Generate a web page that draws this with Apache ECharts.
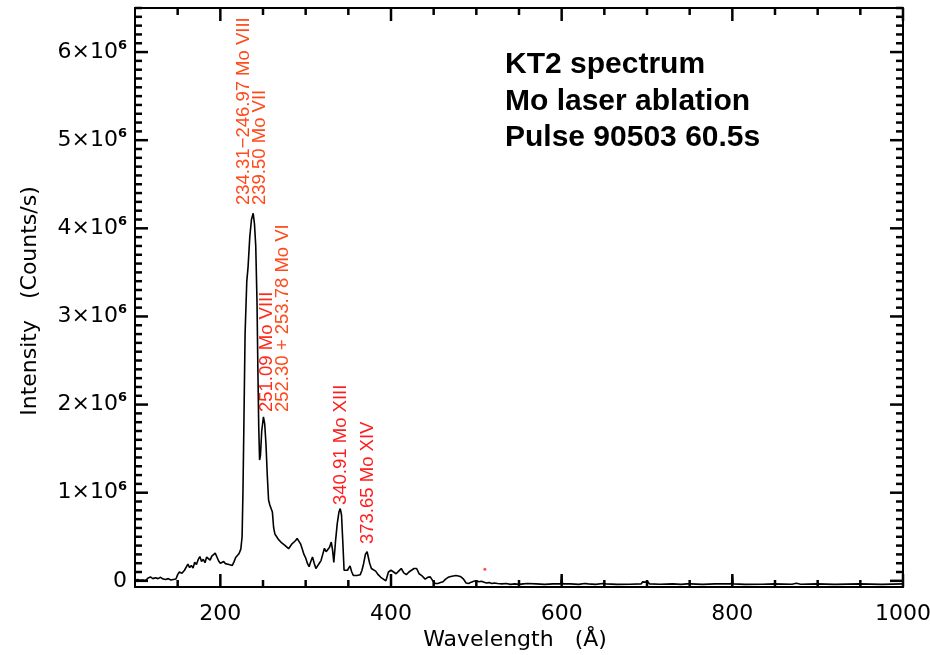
<!DOCTYPE html>
<html><head><meta charset="utf-8">
<script src="https://cdn.jsdelivr.net/npm/echarts@6/dist/echarts.min.js"></script>
<style>html,body{margin:0;padding:0;background:#fff;overflow:hidden}#c{width:930px;height:655px}</style>
</head><body><div id="c"></div>
<script>
// Wavelength (Å)
const wavelength = [
 100,103,106,109,112,115,118,121,124,127,130,133,136,139,142,145,148,150,152,155,158,160,162,164,166,168,170,172,174,176,178,180,182,184,186,188,190,192,194,196,198,200,202,204,206,208,210,212,214,216,218,220,222,224,225.5,226.5,227.5,229,231,232.5,234.5,236.5,238.5,240,241.5,243,244,245,246,247,248.5,250.5,252,253.5,255,256.5,258,259.5,261,262.5,264,266,268,270,272,274,276,278,280,282,284,286,288,290,292,294,296,298,300,302,304,306,308,310,312,314,316,318,320,322,324,326,328,330,331.5,333,335,337,339,340.5,342,343.5,345,347,349,352,354,356,360,364,366,368,370,372,373.5,375,377,379,382,385,388,391,394,397,400,403,406,409,412,415,418,421,424,427,430,433,436,440,443,446,449,452,455,458,461,464,467,470,473,476,479,482,485,488,491,494,497,500,503,506,509,512,515,518,521,525,530,535,540,545,550,555,560,570,580,590,599,600,601,610,620,627,629,631,640,648,650,652,665,680,693,695,698,701,703,715,730,740,747,749,751,765,780,799,800,801,815,835,849,850,851,870,875,880,899,900,901,920,935,949,950,951,975,1000
];
// Intensity (Counts/s)
const intensity = [
 5000,15000,5000,10000,0,30000,45000,25000,35000,25000,40000,20000,15000,25000,10000,15000,20000,70000,100000,85000,120000,105000,190000,150000,175000,145000,210000,185000,240000,275000,220000,245000,205000,270000,250000,235000,280000,300000,315000,270000,225000,200000,185000,220000,195000,210000,185000,200000,175000,215000,265000,285000,310000,360000,500000,1000000,1700000,2800000,3400000,3560000,3900000,4100000,4170000,4050000,3800000,3150000,2400000,1750000,1370000,1420000,1700000,1860000,1780000,1550000,1200000,920000,860000,880000,780000,600000,530000,500000,470000,455000,430000,445000,400000,380000,365000,380000,420000,400000,455000,480000,450000,420000,360000,300000,260000,200000,160000,220000,270000,200000,140000,170000,200000,230000,300000,370000,330000,350000,380000,440000,350000,210000,450000,650000,780000,820000,750000,450000,120000,110000,120000,170000,100000,60000,60000,70000,120000,200000,300000,330000,310000,200000,140000,150000,110000,70000,40000,20000,0,100000,120000,100000,80000,110000,140000,90000,70000,100000,120000,140000,140000,80000,60000,20000,40000,45000,0,-30000,-30000,-20000,-10000,20000,40000,50000,55000,60000,55000,45000,20000,-25000,-30000,-15000,-5000,0,-10000,-5000,-15000,-25000,-20000,-30000,-25000,-30000,-35000,-30000,-40000,-35000,-40000,-35000,-30000,-35000,-40000,-35000,-35000,55000,-35000,-35000,-40000,-30000,-10000,-35000,-40000,-30000,-12000,-35000,-40000,-38000,-35000,-12000,-15000,-12000,-35000,-38000,-35000,-40000,-35000,-15000,-35000,-40000,-35000,-35000,55000,-35000,-40000,-38000,-35000,-15000,-35000,-38000,-28000,-38000,-35000,-15000,-35000,-40000,-37000,-35000,-15000,-35000,-40000,-35000
];
// isolated red point
const redPointWavelength = [510];
const redPointIntensity = [130000];

const xMajorTicks = [200, 400, 600, 800, 1000];
const xMinorTicks = [150, 250, 300, 350, 450, 500, 550, 650, 700, 750, 850, 900, 950];
const yMajorTicks = [0, 1e6, 2e6, 3e6, 4e6, 5e6, 6e6];
const yMinorTicks = [];
for (let k = 1; k <= 65; k++) { if (k % 10 !== 0) yMinorTicks.push(k * 1e5); }

const annotations = [
  { text: '234.31\u2212246.97 Mo VIII', color: '#ff4a1c', x: 244, y: 205 },
  { text: '239.50 Mo VII',              color: '#ff4a1c', x: 260, y: 205 },
  { text: '251.09 Mo VIII',             color: '#ff2a1a', x: 267, y: 412 },
  { text: '252.30 + 253.78 Mo VI',      color: '#ff4a1c', x: 283, y: 412 },
  { text: '340.91 Mo XIII',             color: '#ff1e1e', x: 341, y: 505 },
  { text: '373.65 Mo XIV',              color: '#ff1e1e', x: 368, y: 544 }
];
const infoLines = ['KT2 spectrum', 'Mo laser ablation', 'Pulse 90503 60.5s'];

(function () {
const FONT = 'DejaVu Sans';
const X_MIN = 100, X_MAX = 1000, Y_MIN = -70000, Y_MAX = 6500000;

function xAx(pos, labels) {
  return {
    type: 'value', min: X_MIN, max: X_MAX, position: pos,
    axisLine: { show: true, onZero: false, lineStyle: { color: '#000', width: 2 } },
    axisTick: { show: false },
    axisLabel: labels ? { show: true, customValues: xMajorTicks, margin: 16, color: '#000', fontFamily: FONT, fontSize: 22,
      hideOverlap: false, formatter: function (v) { return String(v); } } : { show: false },
    splitLine: { show: false }
  };
}
function yAx(pos, labels) {
  return {
    type: 'value', min: Y_MIN, max: Y_MAX, position: pos,
    axisLine: { show: true, onZero: false, lineStyle: { color: '#000', width: 2 } },
    axisTick: { show: false },
    axisLabel: labels ? {
      show: true, customValues: yMajorTicks, margin: 8, color: '#000', fontFamily: FONT, fontSize: 22,
      formatter: function (v) { if (v === 0) return '0'; return '{m|' + Math.round(v / 1e6) + '\u00d710}{e|6}'; },
      rich: {
        m: { fontFamily: FONT, fontSize: 22, lineHeight: 26, color: '#000' },
        e: { fontFamily: FONT, fontSize: 13, lineHeight: 13, fontWeight: 'bold', color: '#000', verticalAlign: 'top' }
      }
    } : { show: false },
    splitLine: { show: false }
  };
}

// tick marks drawn as custom series through the axis scales (inward, on all four sides)
function xTickSeries(vals, len) {
  return {
    type: 'custom', xAxisIndex: 0, yAxisIndex: 0, silent: true, z: 5, clip: false,
    data: vals.map(function (v) { return [v, Y_MIN]; }),
    renderItem: function (params, api) {
      const v = api.value(0);
      const b = api.coord([v, Y_MIN]);
      const t = api.coord([v, Y_MAX]);
      const st = { stroke: '#000', lineWidth: 2.5 };
      return { type: 'group', children: [
        { type: 'line', shape: { x1: b[0], y1: b[1], x2: b[0], y2: b[1] - len }, style: st },
        { type: 'line', shape: { x1: t[0], y1: t[1], x2: t[0], y2: t[1] + len }, style: st }
      ] };
    }
  };
}
function yTickSeries(vals, len) {
  return {
    type: 'custom', xAxisIndex: 0, yAxisIndex: 0, silent: true, z: 5, clip: false,
    data: vals.map(function (v) { return [X_MIN, v]; }),
    renderItem: function (params, api) {
      const v = api.value(1);
      const l = api.coord([X_MIN, v]);
      const r = api.coord([X_MAX, v]);
      const st = { stroke: '#000', lineWidth: 2.5 };
      return { type: 'group', children: [
        { type: 'line', shape: { x1: l[0], y1: l[1], x2: l[0] + len, y2: l[1] }, style: st },
        { type: 'line', shape: { x1: r[0], y1: r[1], x2: r[0] - len, y2: r[1] }, style: st }
      ] };
    }
  };
}

const chart = echarts.init(document.getElementById('c'), null, { renderer: 'canvas' });

const graphics = [];
graphics.push({ type: 'text', x: 30, y: 301, rotation: Math.PI / 2,
  style: { text: 'Intensity   (Counts/s)', fontFamily: FONT, fontSize: 22, fill: '#000', textAlign: 'center', textVerticalAlign: 'middle' } });
graphics.push({ type: 'text', x: 515, y: 640,
  style: { text: 'Wavelength   (\u00c5)', fontFamily: FONT, fontSize: 22, fill: '#000', textAlign: 'center', textVerticalAlign: 'middle' } });
annotations.forEach(a => graphics.push({ type: 'text', x: a.x, y: a.y, rotation: Math.PI / 2,
  style: { text: a.text, fontFamily: 'Liberation Sans', fontSize: 18.5, fill: a.color, textAlign: 'left', textVerticalAlign: 'middle' } }));
infoLines.forEach((t, i) => graphics.push({ type: 'text', x: 505, y: 65 + i * 36.5,
  style: { text: t, fontFamily: 'Liberation Sans', fontWeight: 'bold', fontSize: 30, fill: '#000', textAlign: 'left', textVerticalAlign: 'middle' } }));

chart.setOption({
  animation: false,
  backgroundColor: '#fff',
  grid: { left: 135, right: 27, top: 8, bottom: 68, containLabel: false, outerBoundsMode: 'none' },
  xAxis: [ xAx('bottom', true), xAx('top', false) ],
  yAxis: [ yAx('left', true), yAx('right', false) ],
  series: [
    { type: 'line', xAxisIndex: 0, yAxisIndex: 0, data: wavelength.map((w, i) => [w, intensity[i]]),
      showSymbol: false, symbol: 'none', lineStyle: { color: '#000', width: 1.6 }, silent: true },
    { type: 'scatter', xAxisIndex: 0, yAxisIndex: 0, data: redPointWavelength.map((w, i) => [w, redPointIntensity[i]]),
      symbolSize: 3, itemStyle: { color: '#ff2020' }, silent: true },
    xTickSeries(xMajorTicks, 13),
    xTickSeries(xMinorTicks, 7),
    yTickSeries(yMajorTicks, 13),
    yTickSeries(yMinorTicks, 7)
  ],
  graphic: graphics
});
})();
</script></body></html>
